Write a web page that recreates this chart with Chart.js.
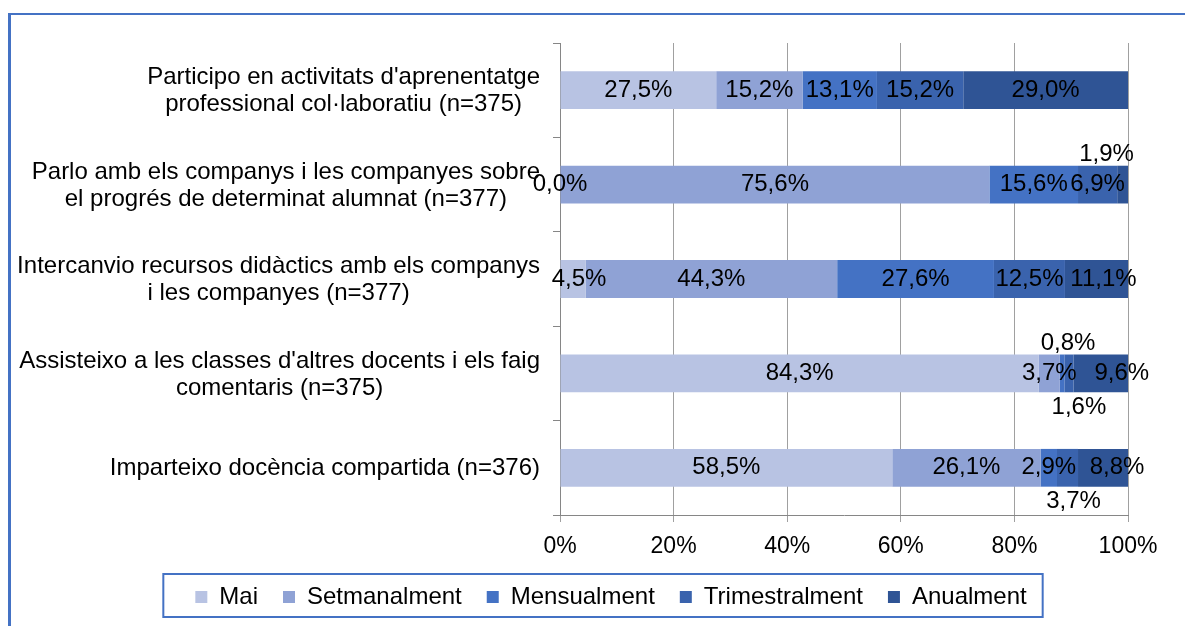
<!DOCTYPE html>
<html>
<head>
<meta charset="utf-8">
<script src="https://cdn.jsdelivr.net/npm/chart.js@4.4.1/dist/chart.umd.min.js"></script>
<style>
  html, body { margin: 0; padding: 0; background: #fff; overflow: hidden; }
  #wrap { position: relative; width: 1185px; height: 626px; }
  #frame { position: absolute; left: 8px; top: 13px; width: 1300px; height: 700px;
           border-top: 2px solid #4472c4; border-left: 3px solid #4472c4; pointer-events: none; }
</style>
</head>
<body>
<div id="wrap">
  <canvas id="chart"></canvas>
  <div id="frame"></div>
</div>
<script>
const categories = [
  ["Participo en activitats d'aprenentatge", "professional col·laboratiu (n=375)"],
  ["Parlo amb els companys i les companyes sobre", "el progrés de determinat alumnat (n=377)"],
  ["Intercanvio recursos didàctics amb els companys", "i les companyes (n=377)"],
  ["Assisteixo a les classes d'altres docents i els faig", "comentaris (n=375)"],
  ["Imparteixo docència compartida (n=376)"]
];
const seriesNames = ["Mai", "Setmanalment", "Mensualment", "Trimestralment", "Anualment"];
const mai = [27.5, 0.0, 4.5, 84.3, 58.5];
const setmanalment = [15.2, 75.6, 44.3, 3.7, 26.1];
const mensualment = [13.1, 15.6, 27.6, 0.8, 2.9];
const trimestralment = [15.2, 6.9, 12.5, 1.6, 3.7];
const anualment = [29.0, 1.9, 11.1, 9.6, 8.8];
const xTicks = [0, 20, 40, 60, 80, 100];

const colors = ["#b8c3e3", "#8fa2d5", "#4472c4", "#3a63ad", "#2f5495"];
const FONT = "'Liberation Sans', Arial, sans-serif";

// small labels that Excel moved off the bar (key: category-series)
const labelMoves = {
  "1-4": { pos: "above", dx: -16 },
  "2-0": { dx: 6 },
  "2-4": { dx: 7 },
  "3-2": { pos: "above", dx: 6 },
  "3-3": { pos: "below", dx: 10 },
  "3-4": { dx: 21 },
  "4-3": { pos: "below", dx: 6 },
  "4-4": { dx: 14 }
};

const fmt = (v) => v.toFixed(1).replace(".", ",") + "%";

const categoryLabels = {
  id: "categoryLabels",
  afterDraw(chart) {
    const ctx = chart.ctx;
    const yScale = chart.scales.y;
    ctx.save();
    ctx.font = "24px " + FONT;
    ctx.fillStyle = "#000";
    ctx.textAlign = "center";
    ctx.textBaseline = "middle";
    const lineH = 27;
    categories.forEach((lines, i) => {
      const maxW = Math.max(...lines.map((l) => ctx.measureText(l).width));
      const cx = yScale.right - 20 - maxW / 2;
      const cy = yScale.getPixelForValue(i) + 1;
      lines.forEach((l, k) => {
        ctx.fillText(l, cx, cy + (k - (lines.length - 1) / 2) * lineH);
      });
    });
    ctx.restore();
  }
};

const valueLabels = {
  id: "valueLabels",
  afterDatasetsDraw(chart) {
    const ctx = chart.ctx;
    ctx.save();
    ctx.font = "24px " + FONT;
    ctx.fillStyle = "#000";
    ctx.textAlign = "center";
    ctx.textBaseline = "middle";
    chart.data.datasets.forEach((ds, di) => {
      chart.getDatasetMeta(di).data.forEach((bar, i) => {
        const move = labelMoves[i + "-" + di] || {};
        let x = (bar.x + bar.base) / 2 + (move.dx || 0);
        let y = bar.y;
        if (move.pos === "above") y = bar.y - bar.height / 2 - 11;
        if (move.pos === "below") y = bar.y + bar.height / 2 + 15;
        ctx.fillText(fmt(ds.data[i]), x, y);
      });
    });
    ctx.restore();
  }
};

const legendFrame = {
  id: "legendFrame",
  afterDraw(chart) {
    const hb = chart.legend.legendHitBoxes;
    if (!hb || !hb.length) return;
    const last = hb[hb.length - 1];
    const left = hb[0].left - 32;
    const right = last.left + last.width + 16;
    const cy = hb[0].top + hb[0].height / 2;
    const ctx = chart.ctx;
    ctx.save();
    ctx.strokeStyle = "#4472c4";
    ctx.lineWidth = 2;
    ctx.strokeRect(left, cy - 23, right - left, 43);
    ctx.restore();
  }
};

const allSeries = [mai, setmanalment, mensualment, trimestralment, anualment];

new Chart(document.getElementById("chart"), {
  type: "bar",
  data: {
    labels: categories,
    datasets: allSeries.map((vals, i) => ({
      label: seriesNames[i],
      data: vals,
      backgroundColor: colors[i],
      borderWidth: 0,
      barPercentage: 0.4,
      categoryPercentage: 1
    }))
  },
  options: {
    indexAxis: "y",
    responsive: true,
    maintainAspectRatio: false,
    animation: false,
    layout: { padding: { left: 94, right: 57, top: 43, bottom: 16 } },
    scales: {
      x: {
        stacked: true,
        min: 0,
        max: 100,
        afterBuildTicks: (s) => { s.ticks = xTicks.map((v) => ({ value: v })); },
        afterFit: (s) => { s.height = 45; },
        ticks: {
          callback: (v) => v + "%",
          color: "#000",
          font: { family: FONT, size: 23 },
          padding: 11,
          maxRotation: 0
        },
        grid: { color: "#a0a0a0", tickLength: 7, drawTicks: true },
        border: { color: "#868686" }
      },
      y: {
        stacked: true,
        afterFit: (s) => { s.width = 466; },
        ticks: { display: false },
        grid: { drawOnChartArea: false, drawTicks: true, tickLength: 7, color: "#868686", offset: true },
        border: { display: true, color: "#868686" }
      }
    },
    plugins: {
      legend: {
        position: "bottom",
        maxHeight: 50,
        labels: {
          boxWidth: 12,
          boxHeight: 12,
          padding: 25,
          color: "#000",
          font: { family: FONT, size: 24 }
        }
      },
      tooltip: { enabled: false }
    }
  },
  plugins: [categoryLabels, valueLabels, legendFrame]
});
</script>
</body>
</html>
